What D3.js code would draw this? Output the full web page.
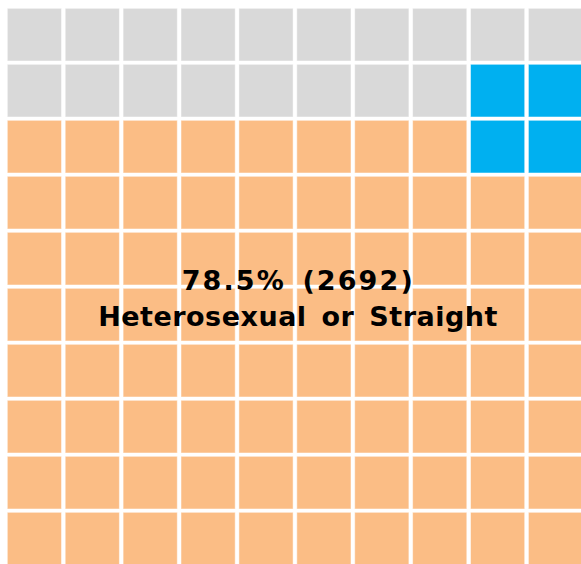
<!doctype html>
<html>
<head>
<meta charset="UTF-8">
<title>Waffle</title>
<script src="https://d3js.org/d3.v7.min.js"></script>
<style>
  body { margin: 0; background: #fff; }
  svg { display: block; }
</style>
</head>
<body>
<script>
// categories and how many of the 100 squares each one takes
var categories = ["Heterosexual or Straight", "Other", "No answer"];
var cells = [78, 4, 18];
var colors = ["#fbbd85", "#00b0f0", "#d9d9d9"];
var mainPercent = "78.5%";
var mainCount = 2692;

var w = 581, h = 564;
var nCols = 10, nRows = 10;

var svg = d3.select("body").append("svg")
    .attr("width", w)
    .attr("height", h);

var x = d3.scaleBand().domain(d3.range(nCols)).range([7.3, 582.6]).paddingInner(0.064);
var y = d3.scaleBand().domain(d3.range(nRows)).range([8.3, 565]).paddingInner(0.059);

// first category fills from bottom-left, last from top-left, middle gets what's left
var grid = [];
for (var r = 0; r < nRows; r++) {
    for (var c = 0; c < nCols; c++) grid.push({row: r, col: c, cat: 1});
}
var bottomUp = grid.slice().sort(function(a, b) { return (b.row - a.row) || (a.col - b.col); });
bottomUp.slice(0, cells[0]).forEach(function(d) { d.cat = 0; });
grid.slice(0, cells[2]).forEach(function(d) { d.cat = 2; });

svg.selectAll("rect")
    .data(grid)
    .enter()
    .append("rect")
    .attr("x", function(d) { return x(d.col); })
    .attr("y", function(d) { return y(d.row); })
    .attr("width", x.bandwidth())
    .attr("height", y.bandwidth())
    .attr("fill", function(d) { return colors[d.cat]; })
    .attr("stroke", "rgba(255,255,255,0.5)")
    .attr("stroke-width", 1);

var label = svg.append("text")
    .attr("text-anchor", "middle")
    .attr("font-family", "DejaVu Sans, Verdana, sans-serif")
    .attr("font-weight", "bold")
    .attr("font-size", 27)
    .attr("fill", "#000");

label.append("tspan")
    .attr("x", 298.3)
    .attr("y", 289.5)
    .attr("letter-spacing", 2.1)
    .attr("word-spacing", 5)
    .text(mainPercent + " (" + mainCount + ")");

label.append("tspan")
    .attr("x", 298)
    .attr("y", 325.5)
    .attr("letter-spacing", 0.5)
    .attr("word-spacing", 5)
    .text(categories[0]);
</script>
</body>
</html>
